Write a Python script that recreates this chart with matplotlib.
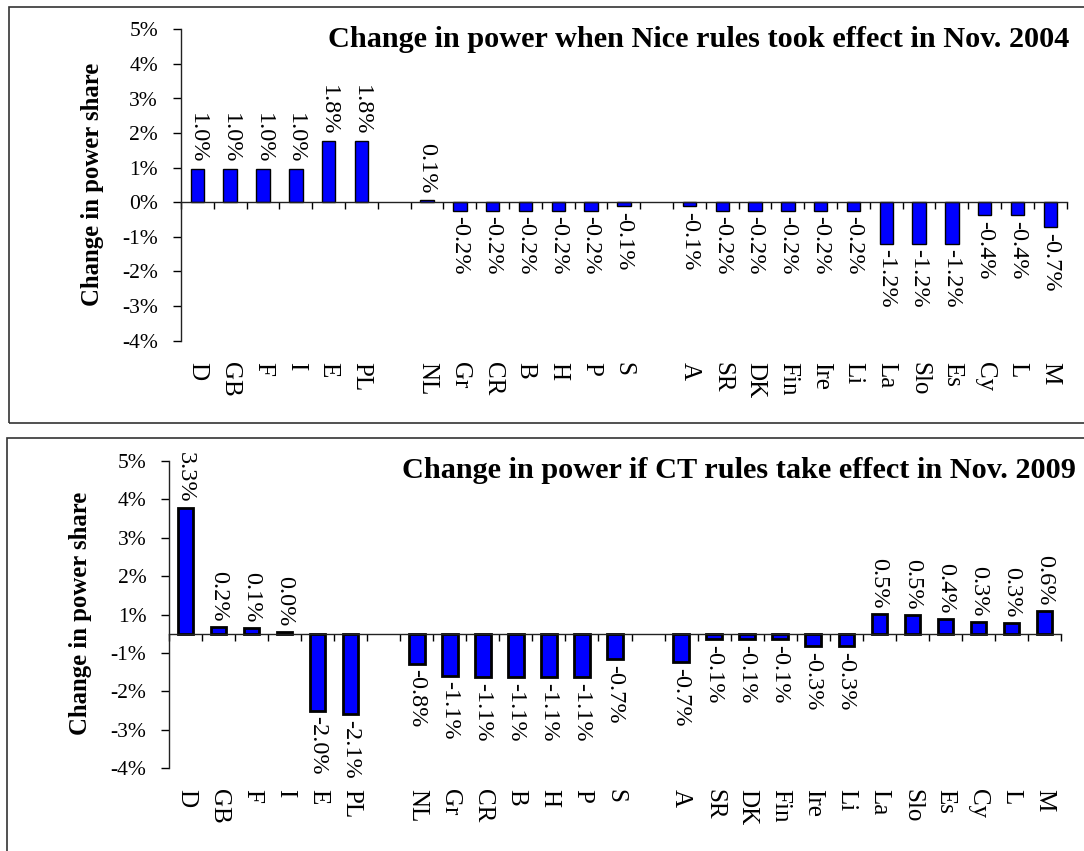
import matplotlib
matplotlib.use("Agg")
import matplotlib.pyplot as plt
from matplotlib.patches import Rectangle
import numpy as np

plt.rcParams['font.family'] = ['Liberation Serif', 'DejaVu Serif']

countries = ['D', 'GB', 'F', 'I', 'E', 'PL', '',
             'NL', 'Gr', 'CR', 'B', 'H', 'P', 'S', '',
             'A', 'SR', 'DK', 'Fin', 'Ire', 'Li', 'La', 'Slo', 'Es', 'Cy', 'L', 'M']

# change in power share (%), None = empty slot between groups
nice_2004 = [0.96, 0.96, 0.96, 0.96, 1.76, 1.76, None,
             0.08, -0.24, -0.24, -0.24, -0.24, -0.24, -0.12, None,
             -0.12, -0.24, -0.24, -0.24, -0.24, -0.24, -1.2, -1.2, -1.2, -0.38, -0.38, -0.72]
ct_2009 = [3.28, 0.17, 0.14, 0.04, -2.01, -2.1, None,
           -0.78, -1.09, -1.13, -1.13, -1.14, -1.14, -0.66, None,
           -0.74, -0.14, -0.14, -0.14, -0.32, -0.32, 0.51, 0.48, 0.37, 0.3, 0.27, 0.6]

top_ticks = [-4, -3, -2, -1, 0, 1, 2, 3, 4, 5]
top_ticklabels = ['-4%', '-3%', '-2%', '-1%', '0%', '1%', '2%', '3%', '4%', '5%']
bot_ticks = [-3.5, -2.5, -1.5, -0.5, 0.5, 1.5, 2.5, 3.5, 4.5]
bot_ticklabels = ['-4%', '-3%', '-2%', '-1%', '1%', '2%', '3%', '4%', '5%']

W, H = 1084, 851
fig = plt.figure(figsize=(W / 100, H / 100), dpi=100)


def px(x0, y0, x1, y1):
    return [x0 / W, 1 - y1 / H, (x1 - x0) / W, (y1 - y0) / H]


def panel(rect, values, ylim, ticks, ticklabels, title, title_xy, ylabel_xy, edge_lw, bar_w):
    ax = fig.add_axes(rect)
    x = np.arange(len(countries))
    mask = [v is not None for v in values]
    xs = x[mask]
    vs = np.array([v for v in values if v is not None])
    ax.bar(xs, vs, width=bar_w, color='#0000ff', edgecolor='black', linewidth=edge_lw, zorder=3)
    ax.set_xlim(-0.5, len(countries) - 0.5)
    ax.set_ylim(*ylim)
    ax.set_yticks(ticks)
    ax.set_yticklabels(ticklabels, fontsize=15.5)
    ax.tick_params(axis='y', direction='out', length=6, width=1, pad=10.5)
    ax.set_xticks(np.arange(-0.5, len(countries), 1))
    ax.set_xticklabels([])
    ax.tick_params(axis='x', direction='out', length=5, width=1)
    for s in ['top', 'right']:
        ax.spines[s].set_visible(False)
    ax.spines['bottom'].set_position(('data', 0))
    ax.spines['bottom'].set_zorder(4)
    ax.spines['left'].set_bounds(ticks[0], ticks[-1])
    for s in ['bottom', 'left']:
        ax.spines[s].set_linewidth(1)
        ax.spines[s].set_color('#222222')
    ax.set_facecolor('none')
    # value labels
    for xi, v in zip(xs, vs):
        off = 4 if v >= 0 else -4
        ax.annotate(f"{v:.1f}%", xy=(xi, v), xytext=(0, off), textcoords='offset points',
                    rotation=270, ha='center', va='bottom' if v >= 0 else 'top', fontsize=17.5)
    # category labels below the plot area
    for xi, c in zip(x, countries):
        if c:
            ax.annotate(c, xy=(xi, 0), xycoords=('data', 'axes fraction'), xytext=(0, -15),
                        textcoords='offset points', rotation=270, ha='center', va='top', fontsize=18)
    fig.text(title_xy[0] / W, 1 - title_xy[1] / H, title, fontsize=21.8, fontweight='bold',
             ha='left', va='baseline')
    fig.text(ylabel_xy[0] / W, 1 - ylabel_xy[1] / H, 'Change in power share', fontsize=17.8,
             fontweight='bold', rotation=90, ha='center', va='center')
    return ax


panel(px(181, 29.3, 1066.7, 340.7), nice_2004, (-4, 5), top_ticks, top_ticklabels,
      'Change in power when Nice rules took effect in Nov. 2004', (328, 47), (92, 184), 1.0, 0.41)
panel(px(169.3, 461, 1060.7, 768), ct_2009, (-3.5, 4.5), bot_ticks, bot_ticklabels,
      'Change in power if CT rules take effect in Nov. 2009', (401.7, 478), (81, 613), 2.0, 0.46)

# panel frames
fig.add_artist(Rectangle((9 / W, 1 - 423.3 / H), 1.2, (423.3 - 6.7) / H, transform=fig.transFigure,
                         fill=False, edgecolor='#333333', linewidth=1.2))
fig.add_artist(Rectangle((6.7 / W, -0.2), 1.2, 1 - 438 / H + 0.2, transform=fig.transFigure,
                         fill=False, edgecolor='#333333', linewidth=1.2))

fig.savefig('out.png', dpi=100)
